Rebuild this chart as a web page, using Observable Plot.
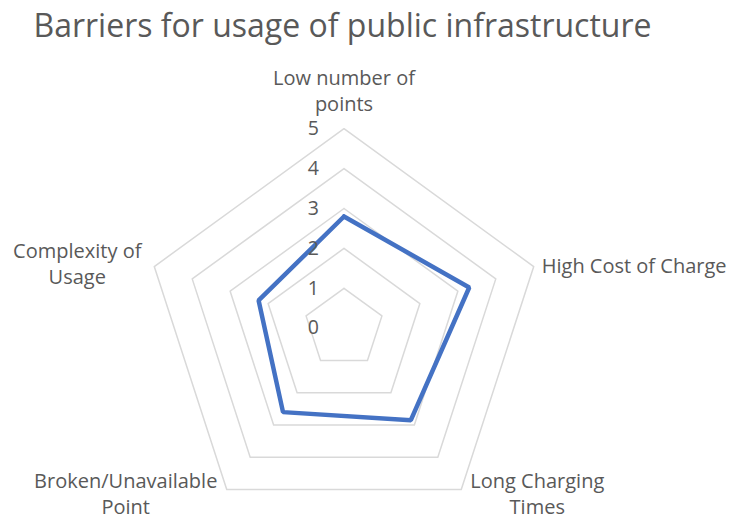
<!DOCTYPE html>
<html>
<head>
<meta charset="utf-8">
<script src="https://cdn.jsdelivr.net/npm/d3@7"></script>
<script src="https://cdn.jsdelivr.net/npm/@observablehq/plot@0.6"></script>
<style>
  html, body { margin: 0; padding: 0; background: #fff; }
  #chart svg { display: block; }
</style>
</head>
<body>
<div id="chart"></div>
<script>
// ---- data ----
const title = "Barriers for usage of public infrastructure";
const categories = [
  "Low number of\npoints",
  "High Cost of Charge",
  "Long Charging\nTimes",
  "Broken/Unavailable\nPoint",
  "Complexity of\nUsage"
];
const values = [2.8, 3.3, 2.85, 2.6, 2.25];
const tickValues = [0, 1, 2, 3, 4, 5];

// ---- layout ----
const W = 733, H = 521;
const cx = 343.5, cy = 327.7, unit = 39.9;
const maxR = d3.max(tickValues);
const n = categories.length;
const ang = i => (i * 2 * Math.PI) / n;
const px = (r, i) => r * Math.sin(ang(i));
const py = (r, i) => r * Math.cos(ang(i));

// grid rings
const grid = tickValues.filter(t => t > 0).flatMap(t =>
  d3.range(n + 1).map(k => ({level: t, x: px(t, k % n), y: py(t, k % n)}))
);
// series polygon
const series = d3.range(n + 1).map(k => ({cat: categories[k % n], x: px(values[k % n], k % n), y: py(values[k % n], k % n)}));

// category labels placed outside the outer ring (pixel offsets from outer vertex)
const labelOffsets = [[0, -39], [8, -2], [76, 3], [-101, 3], [-77, -4]];
const labelAnchors = ["middle", "start", "middle", "middle", "middle"];
const labels = categories.map((c, i) => ({
  text: c, x: px(maxR, i), y: py(maxR, i),
  dx: labelOffsets[i][0], dy: labelOffsets[i][1], anchor: labelAnchors[i]
}));

const font = "'Open Sans', sans-serif";
const textColor = "#595959";

const chart = Plot.plot({
  width: W, height: H,
  margin: 0,
  x: {domain: [-cx / unit, (W - cx) / unit], axis: null},
  y: {domain: [-(H - cy) / unit, cy / unit], axis: null},
  style: {fontFamily: font, color: textColor, background: "#fff"},
  marks: [
    Plot.line(grid, {x: "x", y: "y", z: "level", stroke: "#d9d9d9", strokeWidth: 1.5}),
    Plot.line(series, {x: "x", y: "y", stroke: "#4472C4", strokeWidth: 4.5, strokeLinejoin: "miter"}),
    Plot.text(tickValues, {x: 0, y: d => d, text: d => String(d), textAnchor: "end", dx: -25, fontSize: 19.5, fill: textColor}),
    ...labels.map(l => Plot.text([l], {x: "x", y: "y", text: "text", dx: l.dx, dy: l.dy, textAnchor: l.anchor, lineAnchor: "middle", lineHeight: 1.3, fontSize: 20, fill: textColor})),
    Plot.text([title], {frameAnchor: "top-left", dx: 33, dy: 14, text: d => d, textAnchor: "start", lineAnchor: "top", fontSize: 32, fill: textColor})
  ]
});
document.getElementById("chart").appendChild(chart);
</script>
</body>
</html>
